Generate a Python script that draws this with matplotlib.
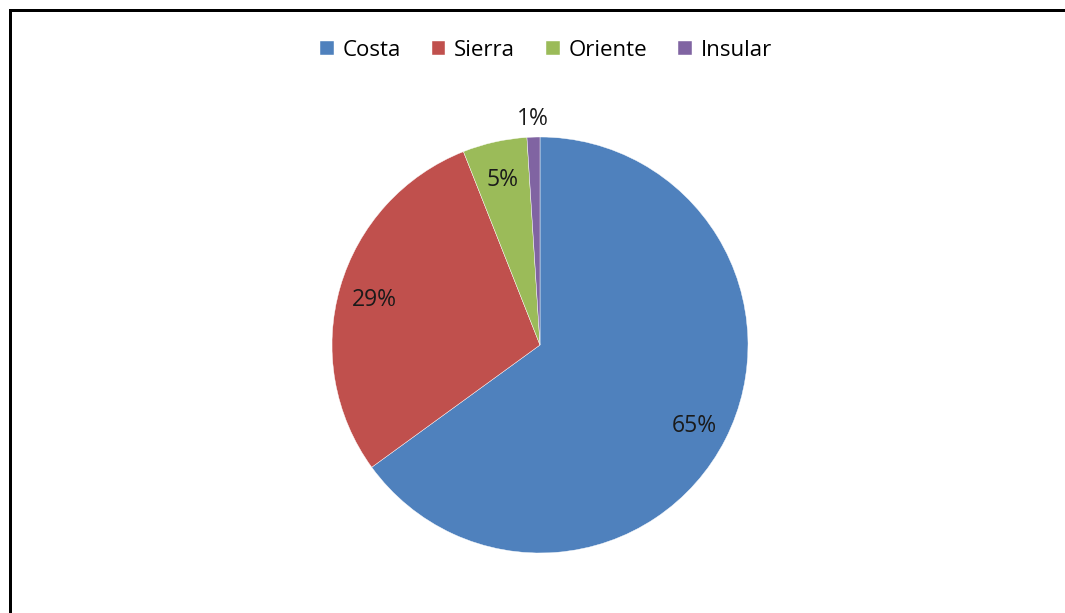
import numpy as np
import matplotlib

matplotlib.use("Agg")
import matplotlib.pyplot as plt
from matplotlib.lines import Line2D

regions = ["Costa", "Sierra", "Oriente", "Insular"]
shares = [65, 29, 5, 1]
colors = ["#4F81BD", "#C0504D", "#9BBB59", "#8064A2"]

plt.rcParams["font.family"] = ["Open Sans", "DejaVu Sans"]

W, H = 1065, 613
fig = plt.figure(figsize=(W / 100, H / 100), dpi=100)

# pie centred at (540, 345) px with radius 208 px
cx, cy, r = 540, 345, 208
ax = fig.add_axes([(cx - r) / W, (H - cy - r) / H, 2 * r / W, 2 * r / H])
wedges, _ = ax.pie(shares, colors=colors, startangle=90, counterclock=False,
                   radius=1.0, wedgeprops=dict(edgecolor="white", linewidth=0.3))
ax.set_xlim(-1, 1)
ax.set_ylim(-1, 1)
ax.set_aspect("equal")
ax.axis("off")

for w, v in zip(wedges, shares):
    mid = np.deg2rad((w.theta1 + w.theta2) / 2)
    dist = 1.10 if v < 3 else 0.83
    ax.text(dist * np.cos(mid), dist * np.sin(mid) - 0.015, f"{v}%", ha="center",
            va="center", fontsize=16.5, color="#1a1a1a", clip_on=False)

fig.legend(wedges, regions, loc="center", bbox_to_anchor=(546 / W, 1 - 50 / H),
           ncol=4, frameon=False, fontsize=16, handlelength=0.6, handleheight=0.6,
           handletextpad=0.4, columnspacing=1.4, borderpad=0)

# partial frame: left and top edges only
lw = 3 * 72 / 100
fig.add_artist(Line2D([9.5 / W, 9.5 / W], [0, 1 - 9.5 / H], color="black", lw=lw,
                      transform=fig.transFigure, solid_capstyle="projecting"))
fig.add_artist(Line2D([9.5 / W, 1], [1 - 9.5 / H, 1 - 9.5 / H], color="black", lw=lw,
                      transform=fig.transFigure, solid_capstyle="projecting"))

fig.savefig("out.png", dpi=100, facecolor="white")
